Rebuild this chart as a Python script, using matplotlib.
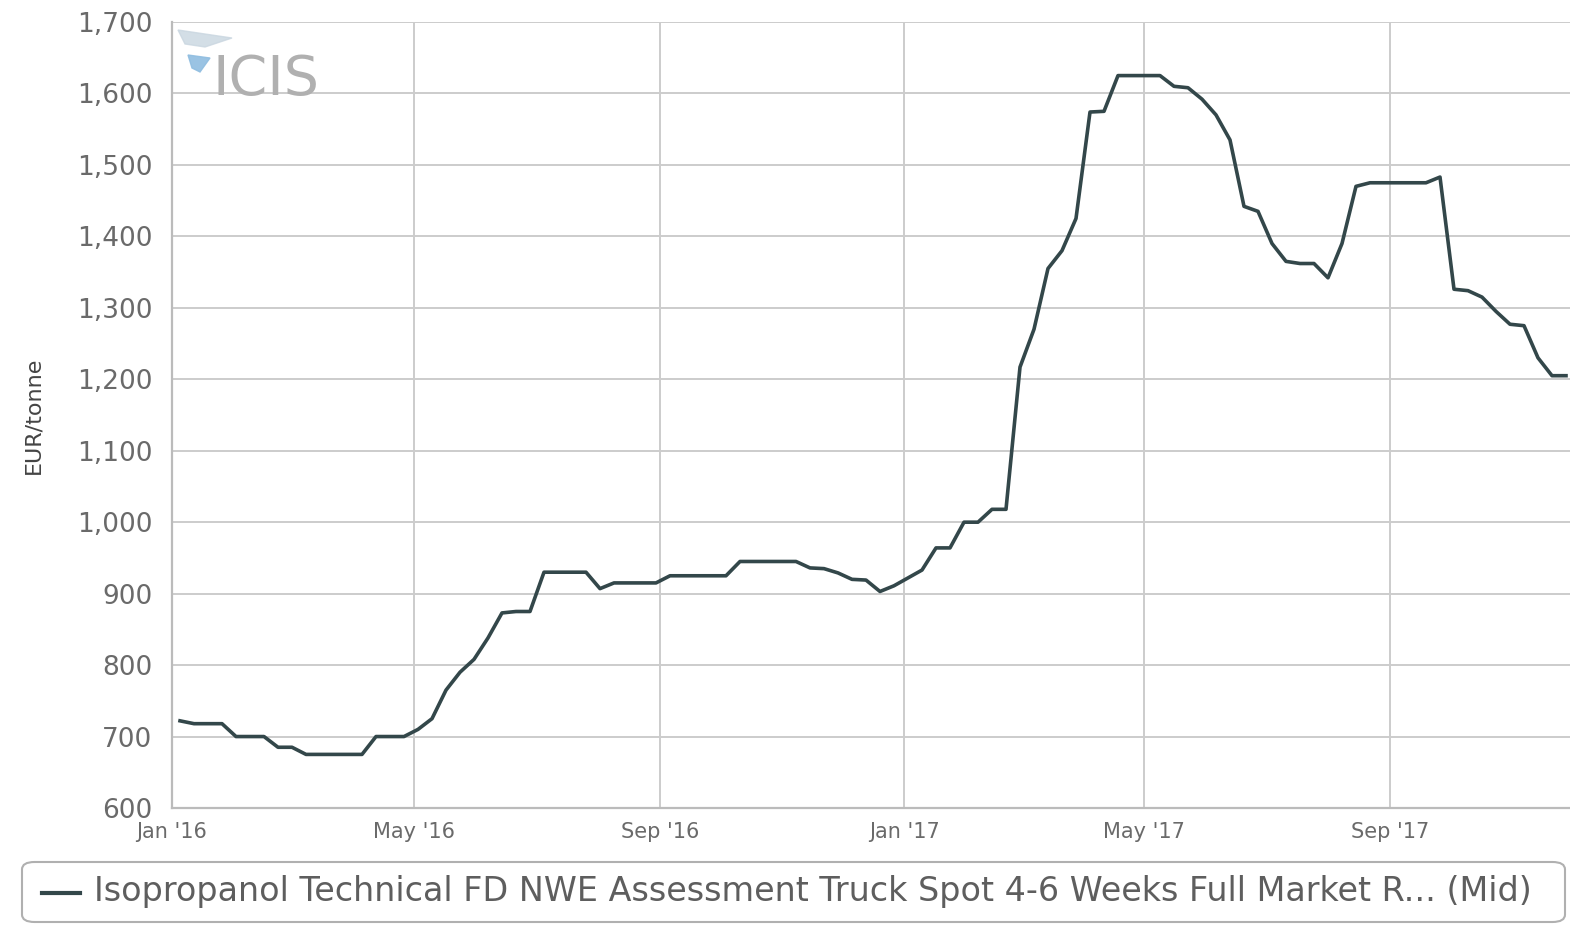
import numpy as np
import pandas as pd
import matplotlib
matplotlib.use("Agg")
import matplotlib.pyplot as plt
from matplotlib.patches import FancyBboxPatch, Polygon

# weekly assessments, EUR/tonne
dates = pd.date_range("2016-01-05", periods=100, freq="7D")
prices = [722, 718, 718, 718, 700, 700, 700, 685, 685, 675,
          675, 675, 675, 675, 700, 700, 700, 710, 725, 765,
          790, 808, 838, 873, 875, 875, 930, 930, 930, 930,
          907, 915, 915, 915, 915, 925, 925, 925, 925, 925,
          945, 945, 945, 945, 945, 936, 935, 929, 920, 919,
          903, 911, 922, 933, 964, 964, 1000, 1000, 1018, 1018,
          1217, 1270, 1355, 1380, 1425, 1574, 1575, 1625, 1625, 1625,
          1625, 1610, 1608, 1592, 1570, 1535, 1442, 1435, 1390, 1365,
          1362, 1362, 1342, 1390, 1470, 1475, 1475, 1475, 1475, 1475,
          1483, 1326, 1324, 1315, 1295, 1277, 1275, 1230, 1205, 1205]

tick_dates = pd.to_datetime(["2016-01-01", "2016-05-01", "2016-09-01",
                             "2017-01-01", "2017-05-01", "2017-09-01"])
tick_labels = ["Jan '16", "May '16", "Sep '16", "Jan '17", "May '17", "Sep '17"]
series_name = "Isopropanol Technical FD NWE Assessment Truck Spot 4-6 Weeks Full Market R... (Mid)"

W, H = 1570, 926
fig = plt.figure(figsize=(W / 100, H / 100), dpi=100)
ax = fig.add_axes([172 / W, 1 - 808 / H, (W - 172) / W, (808 - 22) / H])

line_col = "#33474a"
grid_col = "#cccccc"
text_col = "#6a6a6a"

ax.plot(dates, prices, color=line_col, lw=2.6, solid_joinstyle="round")

ax.set_xlim(pd.Timestamp("2016-01-01"), pd.Timestamp("2017-11-30"))
ax.set_ylim(600, 1700)
ax.set_yticks(np.arange(600, 1701, 100))
ax.set_yticklabels([f"{v:,}" for v in range(600, 1701, 100)])
ax.set_xticks(tick_dates)
ax.set_xticklabels(tick_labels)

ax.grid(True, color=grid_col, lw=1.4)
ax.set_axisbelow(True)
for s in ["top", "right"]:
    ax.spines[s].set_visible(False)
for s in ["left", "bottom"]:
    ax.spines[s].set_color("#bbbbbb")
    ax.spines[s].set_linewidth(1.6)

ax.tick_params(axis="y", length=0, pad=14, labelsize=19, labelcolor=text_col)
ax.tick_params(axis="x", length=0, pad=10, labelsize=15, labelcolor=text_col)
ax.set_ylabel("EUR/tonne", fontsize=16, color="#444444", labelpad=24)

# ICIS watermark
fig.text(213 / W, 1 - 80 / H, "ICIS", fontsize=40, color="#b0b0b0",
         va="center", ha="left")
fig.patches.append(Polygon([[188 / W, 1 - 55 / H], [210 / W, 1 - 58 / H],
                            [200 / W, 1 - 72 / H], [192 / W, 1 - 68 / H]],
                           closed=True, transform=fig.transFigure,
                           color="#8fbde0", alpha=0.9))
fig.patches.append(Polygon([[178 / W, 1 - 30 / H], [232 / W, 1 - 38 / H],
                            [205 / W, 1 - 47 / H], [185 / W, 1 - 44 / H]],
                           closed=True, transform=fig.transFigure,
                           color="#c9d6e0", alpha=0.8))

# legend box
box = FancyBboxPatch((22 / W, 1 - 922 / H), (1565 - 22) / W, 60 / H,
                     boxstyle="round,pad=0,rounding_size=0.008",
                     transform=fig.transFigure, facecolor="white",
                     edgecolor="#b0b0b0", lw=1.5)
fig.patches.append(box)
fig.lines.append(plt.Line2D([42 / W, 80 / W], [1 - 893 / H, 1 - 893 / H],
                            transform=fig.transFigure, color=line_col, lw=3))
fig.text(94 / W, 1 - 892 / H, series_name, fontsize=24, color="#5e5e5e",
         va="center", ha="left")

fig.savefig("out.png", dpi=100, facecolor="white")
